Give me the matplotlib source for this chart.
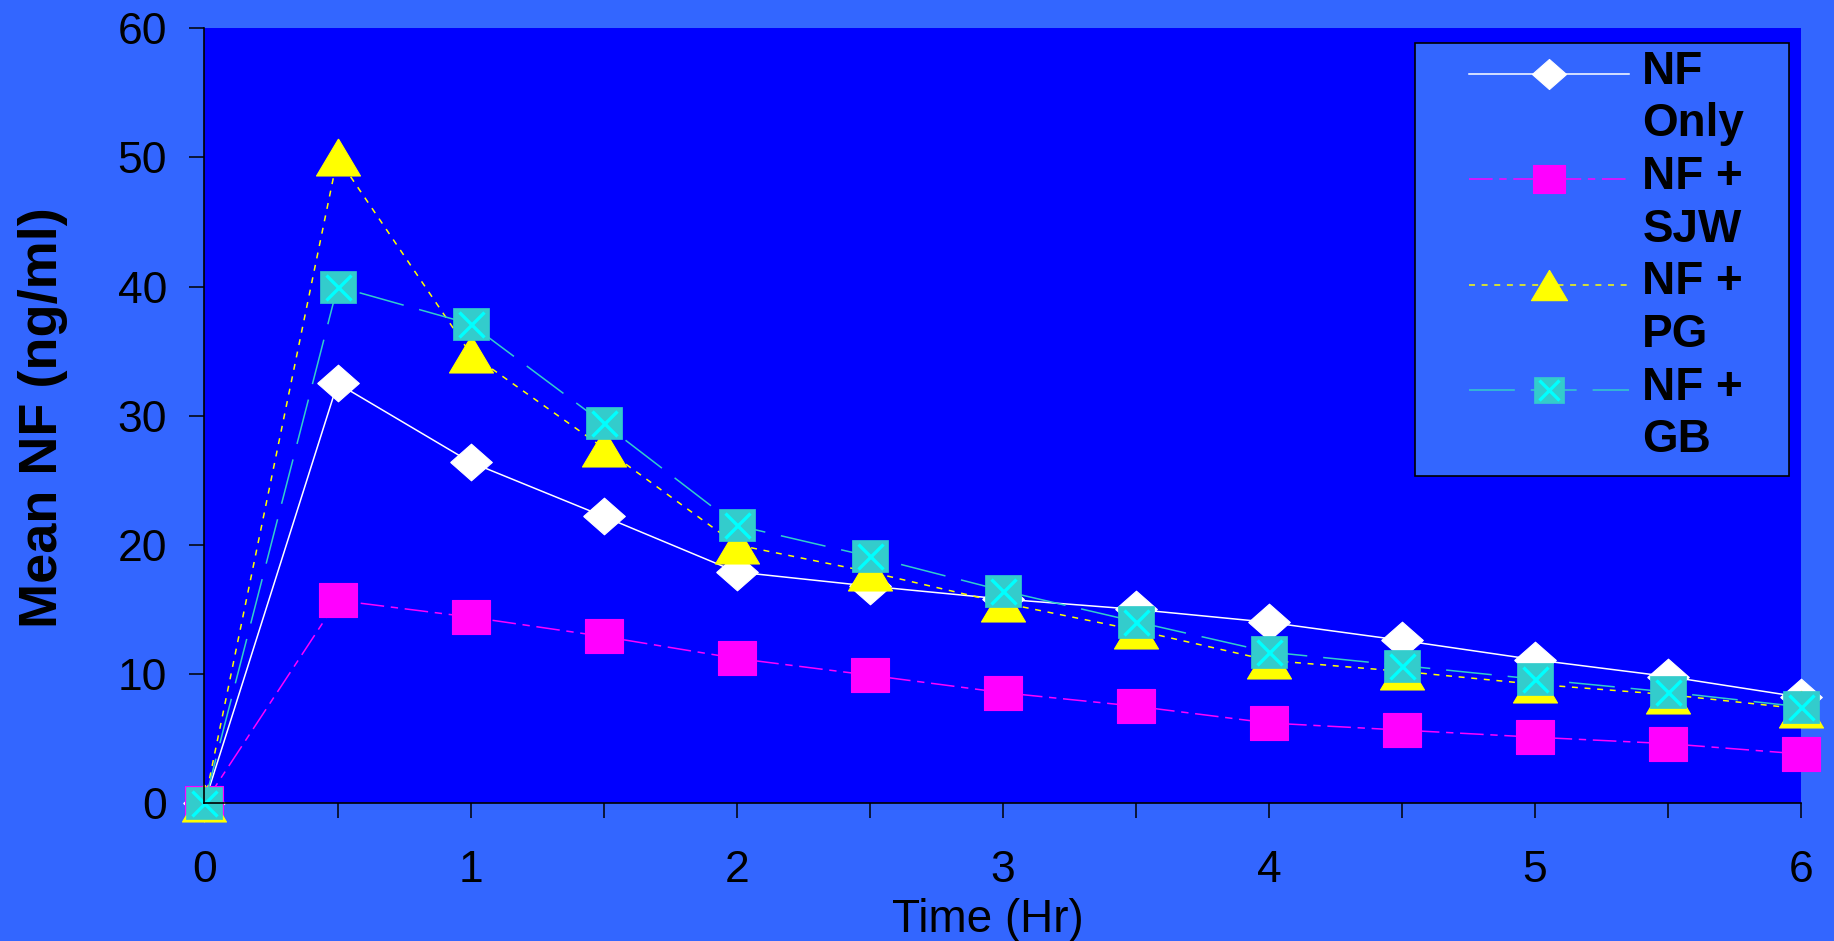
import numpy as np
import matplotlib
matplotlib.use('Agg')
import matplotlib.pyplot as plt
from matplotlib.lines import Line2D
from matplotlib.patches import Rectangle
from matplotlib.legend_handler import HandlerLine2D

plt.rcParams['font.family'] = 'Liberation Sans'
plt.rcParams['lines.scale_dashes'] = False

# sampling times (hours)
time_hr = [0, 0.5, 1, 1.5, 2, 2.5, 3, 3.5, 4, 4.5, 5, 5.5, 6]

# mean plasma NF (ng/ml)
nf_only = [0, 32.5, 26.4, 22.2, 17.9, 16.8, 15.8, 15.0, 14.0, 12.6, 11.1, 9.8, 8.2]
nf_sjw = [0, 15.7, 14.4, 12.9, 11.2, 9.9, 8.55, 7.5, 6.2, 5.65, 5.1, 4.6, 3.8]
nf_pg = [0, 50.0, 34.8, 27.5, 20.0, 17.9, 15.5, 13.4, 11.05, 10.2, 9.2, 8.4, 7.3]
nf_gb = [0, 40.0, 37.1, 29.4, 21.5, 19.1, 16.45, 14.05, 11.7, 10.65, 9.6, 8.6, 7.45]

# legend text, two lines per series
legend_text = [('NF', 'Only'), ('NF +', 'SJW'), ('NF +', 'PG'), ('NF +', 'GB')]

FIG_BG = '#3366FF'
AX_BG = '#0000FF'

# marker outlines, a bit wider than tall
diamond = [(-0.5, 0), (0, 0.44), (0.5, 0), (0, -0.44), (-0.5, 0)]
rect_sjw = [(-0.5, -0.447), (0.5, -0.447), (0.5, 0.447), (-0.5, 0.447), (-0.5, -0.447)]
triangle = [(0, 0.42), (-0.5, -0.42), (0.5, -0.42), (0, 0.42)]
rect_gb = [(-0.5, -0.43), (0.5, -0.43), (0.5, 0.43), (-0.5, 0.43), (-0.5, -0.43)]


class LowLine(HandlerLine2D):
    # sit the legend sample on the first text line, a little lower than centred
    def create_artists(self, legend, orig_handle, xdescent, ydescent,
                       width, height, fontsize, trans):
        return super().create_artists(legend, orig_handle, xdescent,
                                      ydescent + 0.28 * fontsize, width, height,
                                      fontsize, trans)


fig = plt.figure(figsize=(18.34, 9.41), dpi=100, facecolor=FIG_BG)
ax = fig.add_axes([0.1115, 0.1466, 0.8705, 0.8233])
ax.set_facecolor(AX_BG)

l_only, = ax.plot(time_hr, nf_only, color='white', lw=1.1, ls='-',
                  marker=diamond, ms=30, mfc='white', mec='white', mew=0.8,
                  clip_on=False)
l_sjw, = ax.plot(time_hr, nf_sjw, color='#FF00FF', lw=1.1, ls=(0, (17, 4.8, 5.3, 4.8)),
                 marker=rect_sjw, ms=27.4, mfc='#FF00FF', mec='#FF00FF', mew=0.8,
                 clip_on=False)
l_pg, = ax.plot(time_hr, nf_pg, color='#FFFF00', lw=1.1, ls=(0, (4.3, 4.8)),
                marker=triangle, ms=31.7, mfc='#FFFF00', mec='#FFFF00', mew=0.8,
                clip_on=False)
l_gb, = ax.plot(time_hr, nf_gb, color='#33CCCC', lw=1.1, ls=(0, (33, 11.5)),
                marker=rect_gb, ms=26, mfc='#33CCCC', mec='#33CCCC', mew=0.5,
                clip_on=False)
x_gb, = ax.plot(time_hr, nf_gb, ls='none', marker='x', ms=18, mec='#00FFFF',
                mew=2.4, clip_on=False)

ax.set_xlim(0, 6)
ax.set_ylim(0, 60)
ax.set_xticks(range(7))
ax.set_xticks(np.arange(0.5, 6, 1), minor=True)
ax.set_yticks(range(0, 61, 10))
ax.tick_params(which='both', direction='out', length=10.5, width=1.1, color='black')
ax.tick_params(axis='x', which='major', labelsize=32, pad=23.5)
ax.tick_params(axis='y', labelsize=32, pad=16.5)

for side in ['top', 'right']:
    ax.spines[side].set_visible(False)
for side in ['left', 'bottom']:
    ax.spines[side].set_color('black')
    ax.spines[side].set_linewidth(1.2)

ax.set_xlabel('Time (Hr)', fontsize=33)
ax.xaxis.set_label_coords(0.4904, -0.123)
ax.set_ylabel('Mean NF (ng/ml)', fontsize=39, fontweight='bold')
ax.yaxis.set_label_coords(-0.0855, 0.498)

# legend box
fig.add_artist(Rectangle((1415 / 1834, 1 - 476 / 941), 374 / 1834, 433 / 941,
                         transform=fig.transFigure, facecolor=FIG_BG,
                         edgecolor='black', lw=1.2, zorder=4))

blank = Line2D([], [], ls='none', marker='')
handles = []
labels = []
for h, (first, second) in zip([l_only, l_sjw, l_pg, (l_gb, x_gb)], legend_text):
    handles += [h, blank]
    labels += [first, second]

fig.legend(handles, labels, loc='upper left',
           bbox_to_anchor=(1469 / 1834, 1 - 49.5 / 941),
           frameon=False, borderpad=0, borderaxespad=0,
           handlelength=3.5, handletextpad=0.28, labelspacing=0.19,
           markerscale=0.82, prop={'weight': 'bold', 'size': 33},
           handler_map={Line2D: LowLine()})

fig.savefig('out.png', dpi=100, facecolor=FIG_BG)
